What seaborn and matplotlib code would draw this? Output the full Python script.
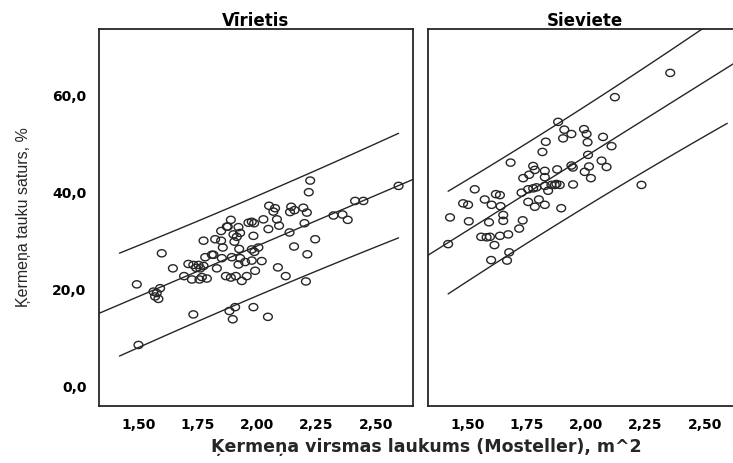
import numpy as np
import pandas as pd
import matplotlib
matplotlib.use("Agg")
import matplotlib.pyplot as plt
from matplotlib.path import Path
import seaborn as sns

# Body surface area (Mosteller, m^2) and body fat (%) - men
bsa_men = [2.223, 2.217, 2.595, 2.412, 2.447, 2.321, 2.359, 2.381, 2.050, 2.075,
           2.068, 2.143, 2.157, 2.138, 2.194, 2.209, 1.889, 1.963, 1.977, 1.987,
           2.026, 2.083, 2.092, 2.199, 1.876, 1.921, 2.047, 1.848, 1.900, 1.914,
           1.984, 2.136, 2.244, 1.774, 1.823, 1.848, 1.904, 1.855, 1.924, 1.977,
           2.005, 1.988, 2.155, 1.598, 1.809, 1.781, 1.851, 1.893, 1.928, 2.211,
           1.977, 2.019, 1.710, 1.731, 1.753, 1.774, 1.760, 1.921, 1.645, 1.830,
           2.087, 1.991, 1.692, 1.725, 1.767, 1.788, 1.757, 1.868, 1.889, 1.910,
           1.956, 1.935, 2.120, 2.205, 1.493, 1.563, 1.591, 1.577, 1.570, 1.584,
           1.731, 1.907, 1.883, 1.897, 1.984, 2.045, 1.500, 1.872, 1.928, 1.743,
           1.816, 1.949]
fat_men = [42.5, 40.1, 41.4, 38.3, 38.3, 35.3, 35.5, 34.4, 37.3, 36.8,
           36.1, 37.1, 36.4, 36.0, 36.9, 35.9, 34.4, 33.8, 34.0, 33.7,
           34.5, 34.5, 33.2, 33.7, 33.0, 32.9, 32.5, 32.1, 31.4, 30.9,
           31.1, 31.8, 30.4, 30.1, 30.4, 30.1, 29.9, 28.7, 28.4, 28.3,
           28.7, 27.8, 28.9, 27.5, 27.2, 26.7, 26.5, 26.7, 26.5, 27.3,
           26.0, 25.9, 25.3, 25.1, 25.1, 24.9, 24.4, 25.2, 24.4, 24.4,
           24.6, 23.9, 22.8, 22.1, 22.6, 22.3, 22.1, 22.8, 22.5, 22.8,
           22.8, 21.8, 22.8, 21.7, 21.1, 19.6, 20.3, 19.3, 18.6, 18.1,
           14.9, 16.4, 15.6, 13.9, 16.4, 14.4, 8.6, 33.0, 31.7, 24.5,
           27.2, 25.7]

# Body surface area (Mosteller, m^2) and body fat (%) - women
bsa_women = [2.355, 2.122, 1.883, 1.909, 1.939, 1.904, 1.992, 2.003, 2.007, 2.072,
             2.108, 1.831, 1.817, 2.009, 1.683, 1.778, 1.785, 1.827, 1.879, 1.939,
             1.945, 2.066, 2.087, 2.013, 1.995, 2.021, 1.736, 1.761, 1.827, 1.855,
             1.869, 1.876, 1.946, 1.890, 2.234, 1.532, 1.729, 1.757, 1.778, 1.792,
             1.827, 1.841, 1.483, 1.504, 1.574, 1.621, 1.638, 1.603, 1.641, 1.757,
             1.785, 1.802, 1.827, 1.896, 1.428, 1.507, 1.592, 1.652, 1.652, 1.734,
             1.719, 1.420, 1.559, 1.582, 1.596, 1.638, 1.673, 1.615, 1.677, 1.601,
             1.668]
fat_women = [64.7, 59.7, 54.6, 53.0, 52.1, 51.2, 53.1, 52.1, 50.4, 51.5,
             49.6, 50.5, 48.4, 47.8, 46.2, 45.5, 44.7, 44.5, 44.8, 45.6,
             45.2, 46.6, 45.3, 45.4, 44.3, 43.0, 43.0, 43.7, 43.2, 41.6,
             41.6, 41.8, 41.7, 41.6, 41.6, 40.7, 40.0, 40.7, 40.9, 41.1,
             41.4, 40.4, 37.8, 37.5, 38.6, 39.7, 39.5, 37.5, 37.2, 38.1,
             37.1, 38.6, 37.5, 36.8, 34.9, 34.1, 33.9, 35.4, 34.2, 34.3,
             32.6, 29.4, 30.9, 30.8, 30.9, 31.1, 31.4, 29.2, 27.7, 26.1,
             26.0]

panel_titles = ["Vīrietis", "Sieviete"]
x_ticks = [1.50, 1.75, 2.00, 2.25, 2.50]
x_tick_labels = ["1,50", "1,75", "2,00", "2,25", "2,50"]
y_ticks = [0.0, 20.0, 40.0, 60.0]
y_tick_labels = ["0,0", "20,0", "40,0", "60,0"]
x_label = "Ķermeņa virsmas laukums (Mosteller), m^2"
y_label = "Ķermeņa tauku saturs, %"

df = pd.concat([
    pd.DataFrame({"bsa": bsa_men, "fat": fat_men, "sex": panel_titles[0]}),
    pd.DataFrame({"bsa": bsa_women, "fat": fat_women, "sex": panel_titles[1]}),
], ignore_index=True)

sns.set_style("white")
plt.rcParams["font.family"] = ["DejaVu Sans"]

INK = "#262626"
XLIM = (1.334, 2.656)
YLIM = (-3.92, 73.7)


def t975(dof):
    # Cornish-Fisher expansion of the Student t 97.5 % quantile
    z = 1.959964
    g1 = (z**3 + z) / 4
    g2 = (5 * z**5 + 16 * z**3 + 3 * z) / 96
    g3 = (3 * z**7 + 19 * z**5 + 17 * z**3 - 15 * z) / 384
    return z + g1 / dof + g2 / dof**2 + g3 / dof**3


# slightly flattened open circle
theta = np.linspace(0, 2 * np.pi, 41)
ring = Path(np.column_stack([np.cos(theta), 0.82 * np.sin(theta)]), closed=True)

fig = plt.figure(figsize=(7.33, 4.63), dpi=100)
bottom, height, width = 0.1238, 0.8130, 0.4284
axes = [fig.add_axes([0.1351, bottom, width, height]),
        fig.add_axes([0.5835, bottom, width, height])]

x_lo, x_hi = df["bsa"].min(), df["bsa"].max()

for ax, title in zip(axes, panel_titles):
    sub = df[df["sex"] == title]
    x = sub["bsa"].to_numpy()
    y = sub["fat"].to_numpy()

    sns.scatterplot(x=x, y=y, ax=ax, marker=ring, s=40, linewidth=1.0,
                    legend=False)
    coll = ax.collections[-1]
    coll.set_facecolor("none")
    coll.set_edgecolor(INK)

    # least squares fit with 95 % prediction interval for single values
    n = len(x)
    slope, icpt = np.polyfit(x, y, 1)
    resid = y - (icpt + slope * x)
    s = np.sqrt(np.sum(resid**2) / (n - 2))
    sxx = np.sum((x - x.mean())**2)

    gx = np.linspace(XLIM[0], XLIM[1], 50)
    sns.lineplot(x=gx, y=icpt + slope * gx, ax=ax, color=INK, linewidth=1.0,
                 estimator=None, sort=False)
    px = np.linspace(x_lo, x_hi, 80)
    half = t975(n - 2) * s * np.sqrt(1 + 1 / n + (px - x.mean())**2 / sxx)
    for sign in (1, -1):
        sns.lineplot(x=px, y=icpt + slope * px + sign * half, ax=ax,
                     color=INK, linewidth=1.0, estimator=None, sort=False)

    ax.set_xlim(*XLIM)
    ax.set_ylim(*YLIM)
    ax.set_xticks(x_ticks, labels=x_tick_labels)
    ax.set_yticks(y_ticks, labels=y_tick_labels)
    ax.set_xlabel("")
    ax.set_ylabel("")
    ax.set_title(title, fontsize=12, fontweight="bold", pad=2, color="black")
    ax.tick_params(direction="out", length=7, width=1.1, color=INK, pad=2,
                   labelsize=10, labelcolor="black")
    for lab in ax.get_xticklabels() + ax.get_yticklabels():
        lab.set_fontweight("bold")
    for sp in ax.spines.values():
        sp.set_visible(True)
        sp.set_color(INK)
        sp.set_linewidth(1.3)

axes[1].tick_params(left=False, labelleft=False)

fig.text(426 / 733, 1 - 447 / 463, x_label, ha="center", va="center",
         fontsize=12.5, fontweight="bold")
fig.text(24 / 733, 1 - 217 / 463, y_label, rotation=90, ha="center",
         va="center", fontsize=11.5, family=["Liberation Sans", "DejaVu Sans"])

fig.savefig("out.png", dpi=100, facecolor="white")
